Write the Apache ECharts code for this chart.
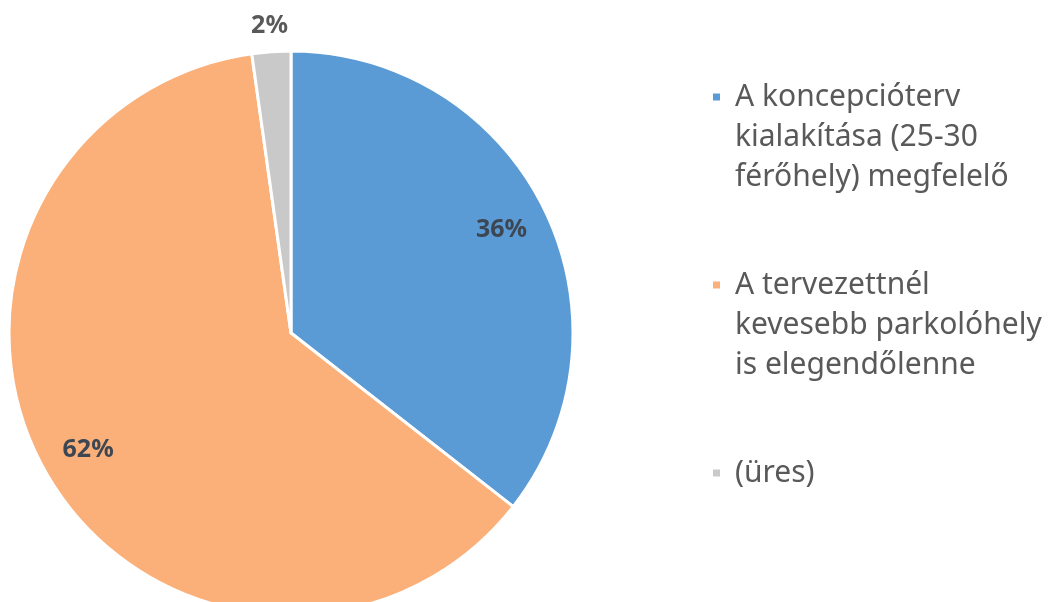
<!DOCTYPE html>
<html>
<head>
<meta charset="utf-8">
<script src="https://cdn.jsdelivr.net/npm/echarts@6/dist/echarts.min.js"></script>
<style>
  html, body { margin: 0; padding: 0; background: #fff; }
  #chart { width: 1053px; height: 602px; }
</style>
</head>
<body>
<div id="chart"></div>
<script>
// adatok
const categories = [
  'A koncepcióterv kialakítása (25-30 férőhely) megfelelő',
  'A tervezettnél kevesebb parkolóhely is elegendőlenne',
  '(üres)'
];
// legend sorok (első sor a jelölő mellé kerül, ezért üres sorokkal toljuk)
const legendLines = [
  '\n\nA koncepcióterv\nkialakítása (25-30\nférőhely) megfelelő',
  '\n\nA tervezettnél\nkevesebb parkolóhely\nis elegendőlenne',
  '\n\n(üres)\n\n'
];
const values = [16, 28, 1];
const colors = ['#5b9bd5', '#fbb07a', '#c9c9c9'];

const chart = echarts.init(document.getElementById('chart'));

const cx = 291, cy = 333, r = 282;

const mainData = categories.map((n, i) => ({ name: n, value: values[i], itemStyle: { color: colors[i] } }));

// átlátszó segéd-sorozatok a címkék elhelyezéséhez
const innerLabelData = categories.map((n, i) => ({
  name: n, value: values[i],
  label: { show: i < 2 }
}));
const outerLabelData = categories.map((n, i) => ({
  name: n, value: values[i],
  label: { show: i === 2, color: '#595959' }
}));

const labelStyle = {
  formatter: '{d}%',
  position: 'inside',
  color: '#3d4753',
  fontFamily: 'Noto Sans',
  fontWeight: 'bold',
  fontSize: 25
};

chart.setOption({
  animation: false,
  backgroundColor: '#fff',
  legend: {
    orient: 'vertical',
    left: 711,
    top: -3,
    padding: 0,
    itemGap: -12,
    itemWidth: 9,
    itemHeight: 9,
    icon: 'rect',
    formatter: name => legendLines[categories.indexOf(name)],
    textStyle: {
      color: '#595959',
      fontFamily: 'Noto Sans',
      fontSize: 30,
      lineHeight: 40,
      padding: [0, 0, 0, 9]
    },
    data: categories
  },
  series: [
    {
      type: 'pie',
      center: [cx, cy],
      radius: r,
      startAngle: 90,
      clockwise: true,
      percentPrecision: 0,
      label: { show: false },
      labelLine: { show: false },
      itemStyle: { borderColor: '#fff', borderWidth: 3 },
      emphasis: { disabled: true },
      data: mainData
    },
    {
      type: 'pie',
      center: [cx, cy],
      radius: [r * 0.64, r],
      startAngle: 90,
      silent: true,
      percentPrecision: 0,
      itemStyle: { color: 'rgba(0,0,0,0)', borderWidth: 0 },
      label: labelStyle,
      labelLine: { show: false },
      emphasis: { disabled: true },
      data: innerLabelData
    },
    {
      type: 'pie',
      center: [cx, cy],
      radius: [r, r * 1.16],
      startAngle: 90,
      silent: true,
      percentPrecision: 0,
      itemStyle: { color: 'rgba(0,0,0,0)', borderWidth: 0 },
      label: labelStyle,
      labelLine: { show: false },
      emphasis: { disabled: true },
      data: outerLabelData
    }
  ]
});
</script>
</body>
</html>
